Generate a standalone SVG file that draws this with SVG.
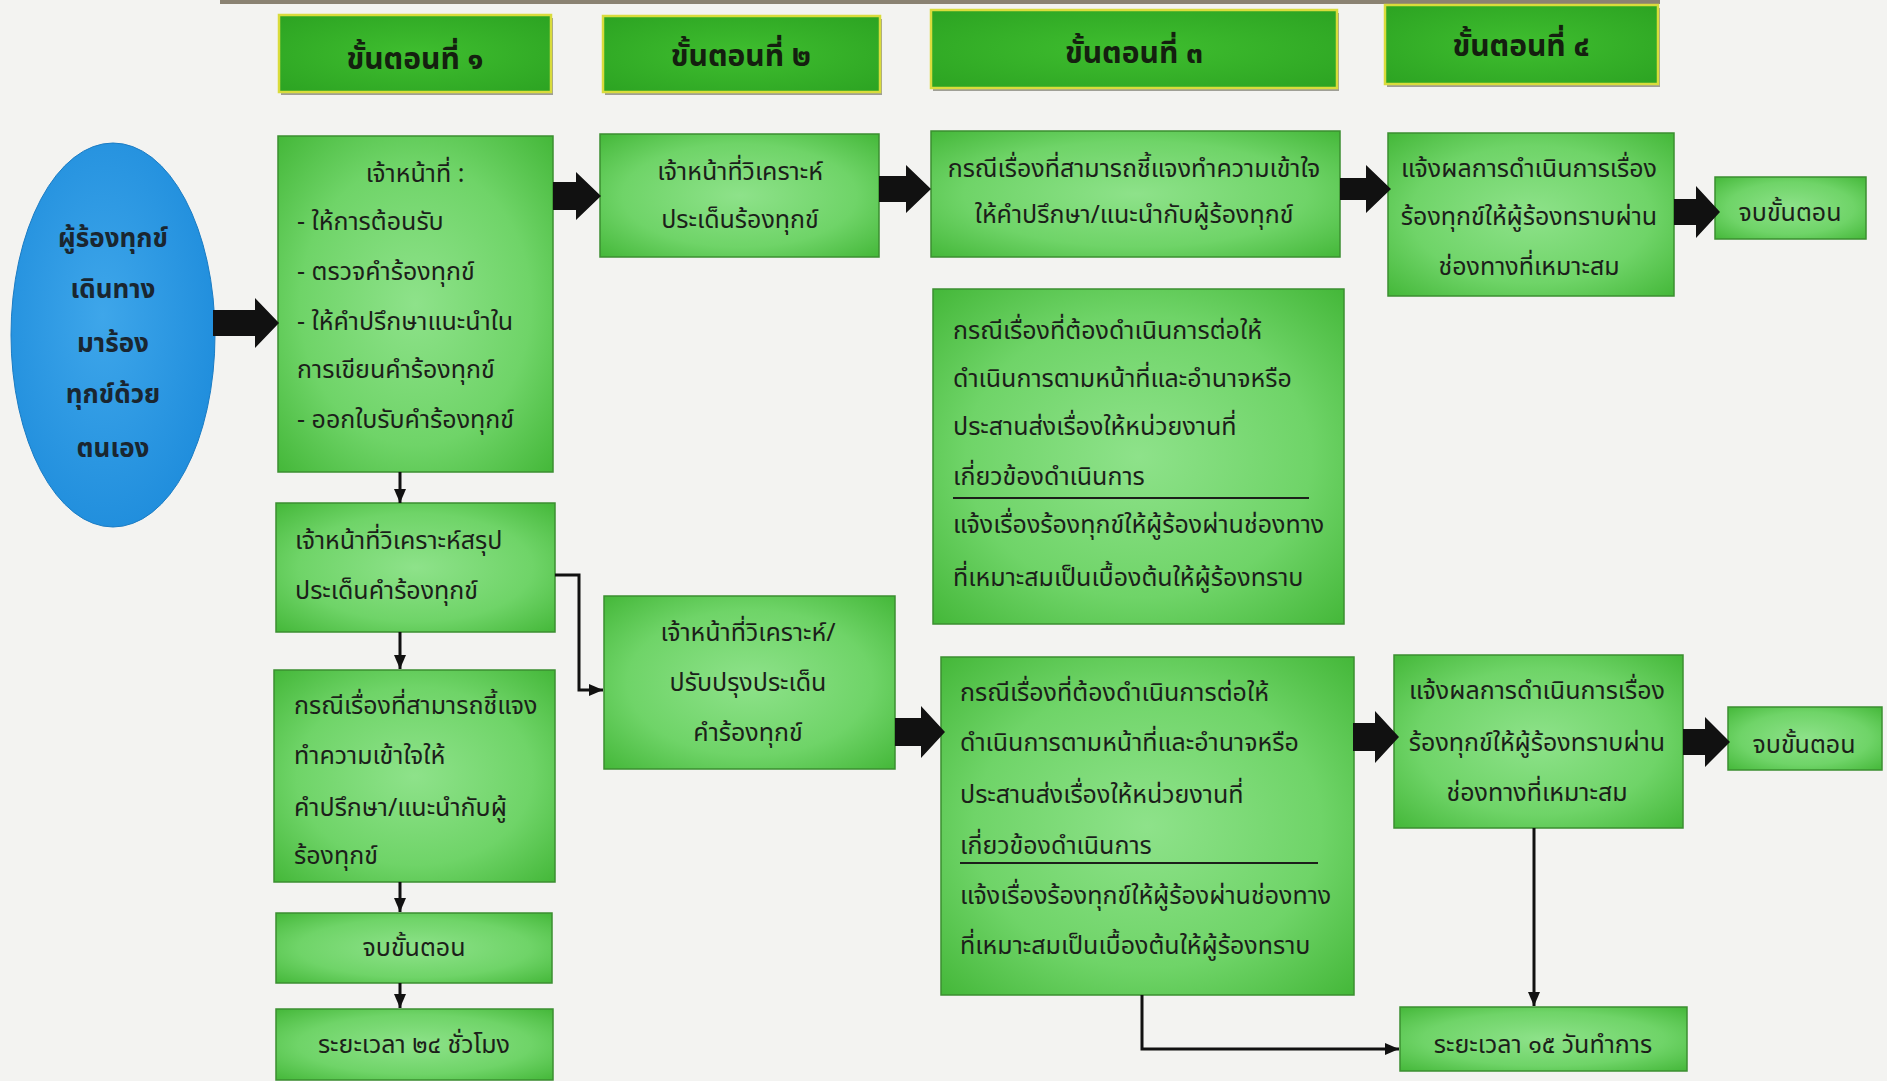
<svg xmlns="http://www.w3.org/2000/svg" width="1887" height="1081" viewBox="0 0 1887 1081">
<defs>
<radialGradient id="gBox" cx="50%" cy="50%" r="70%">
<stop offset="0" stop-color="#8ee28a"/>
<stop offset="0.6" stop-color="#6fd468"/>
<stop offset="1" stop-color="#45b83a"/>
</radialGradient>
<radialGradient id="gHead" cx="50%" cy="50%" r="70%">
<stop offset="0" stop-color="#3fbe2f"/>
<stop offset="1" stop-color="#2ca322"/>
</radialGradient>
<radialGradient id="gEll" cx="45%" cy="45%" r="60%">
<stop offset="0" stop-color="#3ea6ea"/>
<stop offset="1" stop-color="#1f8ddc"/>
</radialGradient>
<marker id="ah" viewBox="0 0 14 12" refX="14" refY="6" markerWidth="14" markerHeight="12" markerUnits="userSpaceOnUse" orient="auto">
<path d="M0,0 L14,6 L0,12 Z" fill="#111"/>
</marker>
</defs>
<style>
.box{fill:url(#gBox);stroke:#3b8f31;stroke-width:1.5}
.head{fill:url(#gHead);stroke:#d9dc3c;stroke-width:2.5}
.shadow{fill:#5a5a4a;opacity:0.55}
.t{font-family:"Noto Sans Thai","Noto Sans","DejaVu Sans",sans-serif;font-size:25px;fill:#1c1f1a}
.c{text-anchor:middle}
.hd{font-family:"Noto Sans Thai","Noto Sans","DejaVu Sans",sans-serif;font-size:30px;font-weight:bold;fill:#14200f;text-anchor:middle}
.el{font-family:"Noto Sans Thai","Noto Sans","DejaVu Sans",sans-serif;font-size:26px;font-weight:bold;fill:#1a2630;text-anchor:middle}
.blk{fill:#111}
.ln{fill:none;stroke:#111;stroke-width:3;marker-end:url(#ah)}
.div{stroke:#1c1f1a;stroke-width:2}
</style>
<rect x="0" y="0" width="1887" height="1081" fill="#f3f3f1"/>
<rect x="220" y="0" width="1440" height="4" fill="#8a8272"/>

<g id="header1"><rect class="shadow" x="281" y="18" width="272" height="77"/><rect class="head" x="279" y="15" width="272" height="77"/><text class="hd" x="415" y="69">ขั้นตอนที่ ๑</text></g>
<g id="header2"><rect class="shadow" x="605" y="19" width="277" height="76"/><rect class="head" x="603" y="16" width="277" height="76"/><text class="hd" x="741" y="66">ขั้นตอนที่ ๒</text></g>
<g id="header3"><rect class="shadow" x="933" y="13" width="406" height="78"/><rect class="head" x="931" y="10" width="406" height="78"/><text class="hd" x="1134" y="63">ขั้นตอนที่ ๓</text></g>
<g id="header4"><rect class="shadow" x="1387" y="8" width="273" height="79"/><rect class="head" x="1385" y="5" width="273" height="79"/><text class="hd" x="1521" y="56">ขั้นตอนที่ ๔</text></g>

<g id="complainant"><ellipse cx="113" cy="335" rx="102" ry="192" fill="url(#gEll)" stroke="#1b7cc4" stroke-width="1"/>
<text class="el" x="113" y="247">ผู้ร้องทุกข์</text>
<text class="el" x="113" y="298">เดินทาง</text>
<text class="el" x="113" y="352">มาร้อง</text>
<text class="el" x="113" y="403">ทุกข์ด้วย</text>
<text class="el" x="113" y="457">ตนเอง</text></g>

<g id="boxA"><rect class="box" x="278" y="136" width="275" height="336"/>
<text class="t c" x="415" y="182">เจ้าหน้าที่ :</text>
<text class="t" x="297" y="230">- ให้การต้อนรับ</text>
<text class="t" x="297" y="280">- ตรวจคำร้องทุกข์</text>
<text class="t" x="297" y="330">- ให้คำปรึกษาแนะนำใน</text>
<text class="t" x="297" y="378">การเขียนคำร้องทุกข์</text>
<text class="t" x="297" y="428">- ออกใบรับคำร้องทุกข์</text></g>

<g id="boxB"><rect class="box" x="600" y="134" width="279" height="123"/>
<text class="t c" x="740" y="180">เจ้าหน้าที่วิเคราะห์</text>
<text class="t c" x="740" y="228">ประเด็นร้องทุกข์</text></g>

<g id="boxC"><rect class="box" x="931" y="131" width="409" height="126"/>
<text class="t c" x="1134" y="177">กรณีเรื่องที่สามารถชี้แจงทำความเข้าใจ</text>
<text class="t c" x="1134" y="223">ให้คำปรึกษา/แนะนำกับผู้ร้องทุกข์</text></g>

<g id="boxD"><rect class="box" x="1388" y="133" width="286" height="163"/>
<text class="t c" x="1529" y="177">แจ้งผลการดำเนินการเรื่อง</text>
<text class="t c" x="1529" y="225">ร้องทุกข์ให้ผู้ร้องทราบผ่าน</text>
<text class="t c" x="1529" y="275">ช่องทางที่เหมาะสม</text></g>

<g id="boxE"><rect class="box" x="1715" y="177" width="151" height="62"/>
<text class="t c" x="1790" y="221">จบขั้นตอน</text></g>

<g id="boxF"><rect class="box" x="933" y="289" width="411" height="335"/>
<text class="t" x="953" y="339">กรณีเรื่องที่ต้องดำเนินการต่อให้</text>
<text class="t" x="953" y="387">ดำเนินการตามหน้าที่และอำนาจหรือ</text>
<text class="t" x="953" y="435">ประสานส่งเรื่องให้หน่วยงานที่</text>
<text class="t" x="953" y="485">เกี่ยวข้องดำเนินการ</text>
<line class="div" x1="953" y1="498" x2="1309" y2="498"/>
<text class="t" x="953" y="533">แจ้งเรื่องร้องทุกข์ให้ผู้ร้องผ่านช่องทาง</text>
<text class="t" x="953" y="586">ที่เหมาะสมเป็นเบื้องต้นให้ผู้ร้องทราบ</text></g>

<g id="boxG"><rect class="box" x="276" y="503" width="279" height="129"/>
<text class="t" x="295" y="549">เจ้าหน้าที่วิเคราะห์สรุป</text>
<text class="t" x="295" y="599">ประเด็นคำร้องทุกข์</text></g>

<g id="boxH"><rect class="box" x="274" y="670" width="281" height="212"/>
<text class="t" x="294" y="714">กรณีเรื่องที่สามารถชี้แจง</text>
<text class="t" x="294" y="764">ทำความเข้าใจให้</text>
<text class="t" x="294" y="816">คำปรึกษา/แนะนำกับผู้</text>
<text class="t" x="294" y="864">ร้องทุกข์</text></g>

<g id="boxI"><rect class="box" x="276" y="913" width="276" height="70"/>
<text class="t c" x="414" y="956">จบขั้นตอน</text></g>

<g id="boxJ"><rect class="box" x="276" y="1009" width="277" height="71"/>
<text class="t c" x="414" y="1053">ระยะเวลา ๒๔ ชั่วโมง</text></g>

<g id="boxK"><rect class="box" x="604" y="596" width="291" height="173"/>
<text class="t c" x="748" y="641">เจ้าหน้าที่วิเคราะห์/</text>
<text class="t c" x="748" y="691">ปรับปรุงประเด็น</text>
<text class="t c" x="748" y="741">คำร้องทุกข์</text></g>

<g id="boxL"><rect class="box" x="941" y="657" width="413" height="338"/>
<text class="t" x="960" y="701">กรณีเรื่องที่ต้องดำเนินการต่อให้</text>
<text class="t" x="960" y="751">ดำเนินการตามหน้าที่และอำนาจหรือ</text>
<text class="t" x="960" y="803">ประสานส่งเรื่องให้หน่วยงานที่</text>
<text class="t" x="960" y="854">เกี่ยวข้องดำเนินการ</text>
<line class="div" x1="960" y1="863" x2="1318" y2="863"/>
<text class="t" x="960" y="904">แจ้งเรื่องร้องทุกข์ให้ผู้ร้องผ่านช่องทาง</text>
<text class="t" x="960" y="954">ที่เหมาะสมเป็นเบื้องต้นให้ผู้ร้องทราบ</text></g>

<g id="boxM"><rect class="box" x="1394" y="655" width="289" height="173"/>
<text class="t c" x="1537" y="699">แจ้งผลการดำเนินการเรื่อง</text>
<text class="t c" x="1537" y="751">ร้องทุกข์ให้ผู้ร้องทราบผ่าน</text>
<text class="t c" x="1537" y="801">ช่องทางที่เหมาะสม</text></g>

<g id="boxN"><rect class="box" x="1728" y="707" width="154" height="63"/>
<text class="t c" x="1804" y="753">จบขั้นตอน</text></g>

<g id="boxO"><rect class="box" x="1400" y="1007" width="287" height="64"/>
<text class="t c" x="1543" y="1053">ระยะเวลา ๑๕ วันทำการ</text></g>

<g id="connectors">
<polygon class="blk" points="213,310 255,310 255,298 279,323 255,348 255,336 213,336"/>
<polygon class="blk" points="553,182 576,182 576,172 601,196 576,220 576,210 553,210"/>
<polygon class="blk" points="879,176 906,176 906,165 931,189 906,213 906,202 879,202"/>
<polygon class="blk" points="1340,178 1366,178 1366,165 1391,189 1366,213 1366,200 1340,200"/>
<polygon class="blk" points="1674,199 1696,199 1696,186 1720,212 1696,238 1696,225 1674,225"/>
<polygon class="blk" points="895,718 921,718 921,706 945,732 921,758 921,746 895,746"/>
<polygon class="blk" points="1353,723 1375,723 1375,711 1399,737 1375,763 1375,751 1353,751"/>
<polygon class="blk" points="1683,729 1705,729 1705,717 1730,742 1705,767 1705,755 1683,755"/>
<path class="ln" d="M400,472 V503"/>
<path class="ln" d="M400,632 V669"/>
<path class="ln" d="M400,882 V912"/>
<path class="ln" d="M400,983 V1008"/>
<path class="ln" d="M555,575 H579 V690 H603"/>
<path class="ln" d="M1534,828 V1006"/>
<path class="ln" d="M1142,995 V1049 H1399"/>
</g>
</svg>
